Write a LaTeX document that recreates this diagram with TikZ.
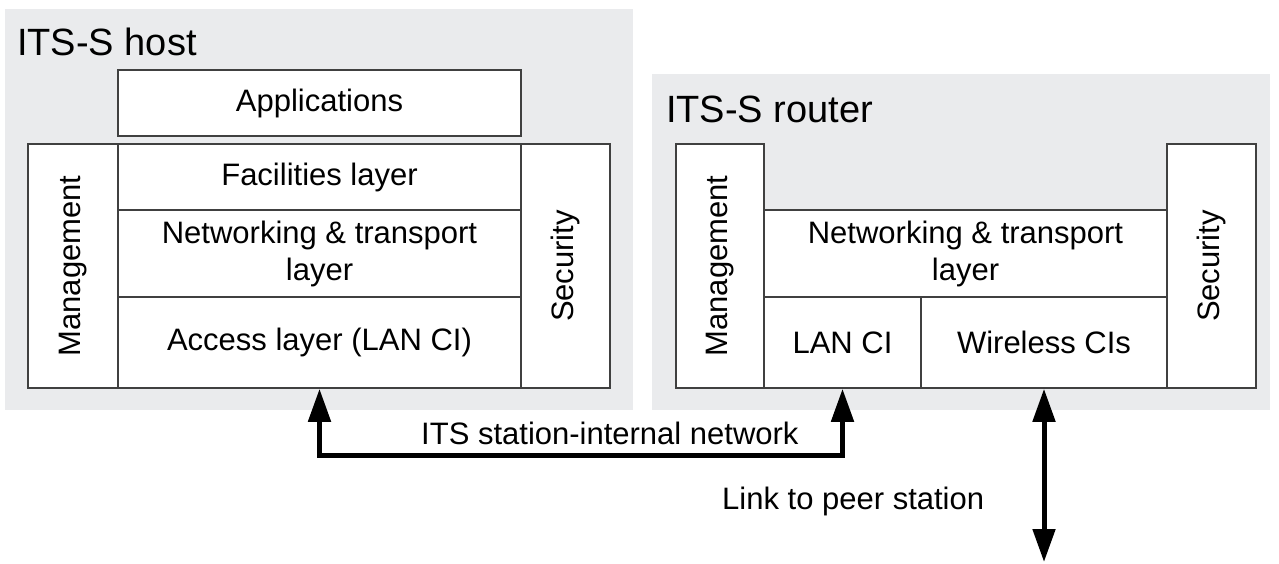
\documentclass[tikz,border=0pt]{standalone}
\usepackage{fontspec}
\setmainfont{Liberation Sans}
\usetikzlibrary{arrows.meta, positioning}
\definecolor{bgGray}{RGB}{234,235,237}
\definecolor{lineGray}{gray}{0.25}

\begin{document}
\begin{tikzpicture}[x=1pt, y=-1pt,
    every node/.style={font=\fontsize{31}{37}\selectfont},
    layerbox/.style={draw=lineGray, line width=1.6pt, fill=white, inner sep=0pt, align=center},
    sidebox/.style={layerbox, rotate=90},
    titletext/.style={font=\fontsize{38}{44}\selectfont, anchor=base west, inner sep=0pt},
    linkarrow/.style={line width=5pt, {Triangle[length=33pt,width=22pt]}-{Triangle[length=33pt,width=22pt]}}]
    \useasboundingbox (0,0) rectangle (1279,564);

    % ITS-S host
    \fill[bgGray] (5,9) rectangle (633,410);
    \node[titletext] (hostT) at (17,56) {ITS-S host};
    \node[layerbox, minimum width=403pt, minimum height=66pt] (app1) at (319.5,103) {Applications};
    \node[sidebox, minimum width=244pt, minimum height=90pt] (mgmt1) at (73,266) {Management};
    \node[sidebox, minimum width=244pt, minimum height=89pt] (sec1) at (565.5,266) {Security};
    \node[layerbox, minimum width=403pt, minimum height=66pt] (fac1) at (319.5,177) {Facilities layer};
    \node[layerbox, minimum width=403pt, minimum height=87pt] (net1) at (319.5,253.5) {Networking \& transport\\layer};
    \node[layerbox, minimum width=403pt, minimum height=91pt] (acc1) at (319.5,342.5) {Access layer (LAN CI)};

    % ITS-S router
    \fill[bgGray] (652,74) rectangle (1270,410);
    \node[titletext] (routerT) at (666,123) {ITS-S router};
    \node[sidebox, minimum width=244pt, minimum height=88pt] (mgmt2) at (720,266) {Management};
    \node[sidebox, minimum width=244pt, minimum height=89pt] (sec2) at (1211.5,266) {Security};
    \node[layerbox, minimum width=403pt, minimum height=87pt] (net2) at (965.5,253.5) {Networking \& transport\\layer};
    \node[layerbox, minimum width=157pt, minimum height=91pt] (lan2) at (842.5,342.5) {LAN CI};
    \node[layerbox, minimum width=246pt, minimum height=91pt] (wls2) at (1044,342.5) {Wireless CIs};

    % links
    \draw[linkarrow] (acc1.south) -- ++(0,67) -| (lan2.south);
    \node[anchor=base west, inner sep=0pt] (intnet) at (421,444) {ITS station-internal network};
    \coordinate (peer) at (1044,562);
    \draw[linkarrow] (wls2.south) -- (peer);
    \node[anchor=base west, inner sep=0pt] (peerT) at (722,509) {Link to peer station};
\end{tikzpicture}
\end{document}
